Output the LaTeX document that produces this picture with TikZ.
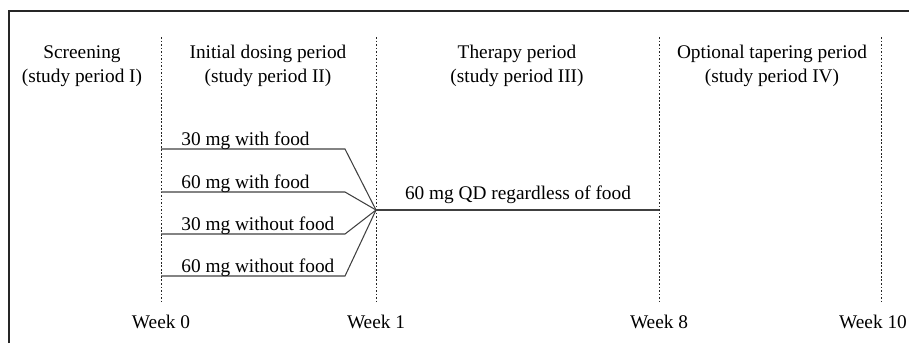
\documentclass[tikz,border=0pt]{standalone}
\usepackage{fontspec}
\setmainfont{Liberation Serif}
\tikzset{
    txt/.style={font=\fontsize{11}{14}\selectfont, inner sep=0pt},
    period/.style={txt, align=center},
    dose/.style={txt, anchor=base west},
    weeklabel/.style={txt, anchor=base},
    weekline/.style={black!85, line width=0.5pt, dash pattern=on 1pt off 1pt},
    armline/.style={black!75, line width=0.6pt},
}
\begin{document}
\begin{tikzpicture}[x=0.02cm, y=-0.02cm]
    \useasboundingbox (0,0) rectangle (909,343);
    % frame
    \draw[black!85, line width=0.8pt] (9,343) -- (9,11) -- (909,11);

    % week boundaries
    \coordinate (w0top) at (161,37);  \coordinate (w0bot) at (161,301);
    \coordinate (w1top) at (376,37);  \coordinate (w1bot) at (376,301);
    \coordinate (w8top) at (659,37);  \coordinate (w8bot) at (659,301);
    \coordinate (w10top) at (881,37); \coordinate (w10bot) at (881,301);
    \draw[weekline] (w0top) -- (w0bot);
    \draw[weekline] (w1top) -- (w1bot);
    \draw[weekline] (w8top) -- (w8bot);
    \draw[weekline] (w10top) -- (w10bot);

    \node[weeklabel] (week0) at (161,328) {Week 0};
    \node[weeklabel] (week1) at (376,328) {Week 1};
    \node[weeklabel] (week8) at (659,328) {Week 8};
    \node[weeklabel] (week10) at (873,328) {Week 10};

    % periods
    \node[period] (screen) at (82,66) {Screening\\(study period I)};
    \node[period] (initial) at (268,66) {Initial dosing period\\(study period II)};
    \node[period] (therapy) at (517,66) {Therapy period\\(study period III)};
    \node[period] (taper) at (772,66) {Optional tapering period\\(study period IV)};

    % dosing arms
    \coordinate (hub) at (376,210);
    \coordinate (qdend) at (659,210);
    \coordinate (a1) at (161,149); \coordinate (a1k) at (345,149);
    \coordinate (a2) at (161,192); \coordinate (a2k) at (345,192);
    \coordinate (a3) at (161,234); \coordinate (a3k) at (345,234);
    \coordinate (a4) at (161,276); \coordinate (a4k) at (345,276);
    \draw[armline] (a1) -- (a1k) -- (hub);
    \draw[armline] (a2) -- (a2k) -- (hub);
    \draw[armline] (a3) -- (a3k) -- (hub);
    \draw[armline] (a4) -- (a4k) -- (hub);
    \draw[armline] (hub) -- (qdend);

    \node[dose] (d30f) at (181,145) {30 mg with food};
    \node[dose] (d60f) at (181,188) {60 mg with food};
    \node[dose] (d30n) at (181,230) {30 mg without food};
    \node[dose] (d60n) at (181,272) {60 mg without food};
    \node[weeklabel] (qd) at (518,199) {60 mg QD regardless of food};
\end{tikzpicture}
\end{document}
